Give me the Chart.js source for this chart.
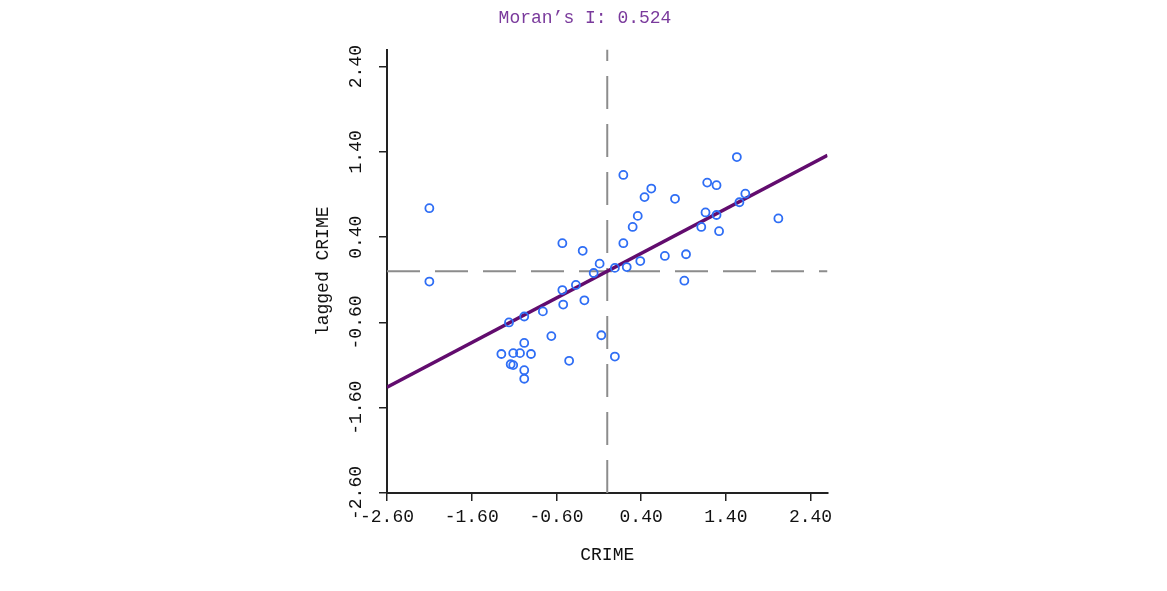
<!DOCTYPE html>
<html>
<head>
<meta charset="utf-8">
<script src="https://cdn.jsdelivr.net/npm/chart.js@4"></script>
<style>
    html, body { margin: 0; padding: 0; background: #fff; }
    canvas { display: block; }
</style>
</head>
<body>
<canvas id="moranChart" width="1167" height="591"></canvas>
<script>
let crime = [
    -2.10, -2.10, -0.53, -0.29, -0.09, -0.16, 0.09, 0.23, 0.39, -0.53,
    -0.37, -0.27, -0.52, -0.76, -0.98, -1.16, -0.66, -0.98, -1.25, -1.11,
    -1.03, -0.90, -1.14, -1.11, -0.45, -0.98, -0.98, -0.07, 0.09, 0.19,
    0.52, 0.44, 0.80, 0.36, 0.30, 0.19, 0.68, 0.93, 1.53, 1.18,
    1.29, 1.63, 1.56, 1.16, 1.29, 1.11, 1.32, 2.02, 0.91
];
let laggedCrime = [
    0.74, -0.12, 0.33, 0.24, 0.09, -0.02, 0.04, 0.05, 0.12, -0.22,
    -0.16, -0.34, -0.39, -0.47, -0.53, -0.60, -0.76, -0.84, -0.97, -0.96,
    -0.96, -0.97, -1.09, -1.10, -1.05, -1.16, -1.26, -0.75, -1.00, 1.13,
    0.97, 0.87, 0.85, 0.65, 0.52, 0.33, 0.18, 0.20, 1.34, 1.04,
    1.01, 0.91, 0.81, 0.69, 0.66, 0.52, 0.47, 0.62, -0.11
];
let fitX = [-2.6, 2.6];
let fitY = [-1.36, 1.36];
let axisTicks = [-2.6, -1.6, -0.6, 0.4, 1.4, 2.4];
let axisMin = -2.6;
let axisMax = 2.6;
let moranI = 0.524;

let monoFont = { family: '"Liberation Mono", "DejaVu Sans Mono", monospace', size: 18 };
let textColor = '#111';

let points = crime.map((c, i) => ({ x: c, y: laggedCrime[i] }));
let fitLine = fitX.map((x, i) => ({ x: x, y: fitY[i] }));

// y tick labels are rotated in the original, chart.js can't rotate them on a vertical axis
let yTickLabels = {
    id: 'yTickLabels',
    afterDraw(chart) {
        let ctx = chart.ctx;
        let yScale = chart.scales.y;
        let labelX = chart.chartArea.left - 31;
        ctx.save();
        ctx.font = monoFont.size + 'px ' + monoFont.family;
        ctx.fillStyle = textColor;
        ctx.textAlign = 'center';
        ctx.textBaseline = 'middle';
        axisTicks.forEach(v => {
            ctx.save();
            ctx.translate(labelX, yScale.getPixelForValue(v));
            ctx.rotate(-Math.PI / 2);
            ctx.fillText(v.toFixed(2), 0, 0);
            ctx.restore();
        });
        ctx.restore();
    }
};

let axisStyle = {
    grid: { drawOnChartArea: false, drawTicks: true, tickLength: 8, color: '#222', lineWidth: 1.5 },
    border: { display: true, color: '#222', width: 2 }
};

let ctx = document.getElementById('moranChart').getContext('2d');
let moranChart = new Chart(ctx, {
    type: 'scatter',
    data: {
        datasets: [
            {
                label: 'CRIME',
                data: points,
                pointRadius: 4,
                pointBorderWidth: 1.8,
                borderColor: '#2f6ef5',
                backgroundColor: 'rgba(0,0,0,0)',
                order: 0
            },
            {
                label: 'fit',
                data: fitLine,
                showLine: true,
                pointRadius: 0,
                borderColor: '#620c6e',
                borderWidth: 3.5,
                order: 1
            },
            {
                label: 'mean x',
                data: [{ x: axisMin, y: 0 }, { x: axisMax, y: 0 }],
                showLine: true,
                pointRadius: 0,
                borderColor: '#8c8c8c',
                borderWidth: 2,
                borderDash: [33, 15],
                order: 2
            },
            {
                label: 'mean y',
                data: [{ x: 0, y: axisMin }, { x: 0, y: axisMax }],
                showLine: true,
                pointRadius: 0,
                borderColor: '#8c8c8c',
                borderWidth: 2,
                borderDash: [33, 15],
                order: 2
            }
        ]
    },
    options: {
        responsive: false,
        animation: false,
        layout: {
            padding: { left: 342.5, right: 339.5, top: 0, bottom: 20 }
        },
        scales: {
            x: {
                type: 'linear',
                min: axisMin,
                max: axisMax,
                afterBuildTicks: scale => { scale.ticks = axisTicks.map(v => ({ value: v })); },
                afterFit: scale => { scale.height = 78; },
                ticks: {
                    autoSkip: false,
                    maxRotation: 0,
                    padding: 5,
                    color: textColor,
                    font: monoFont,
                    callback: value => value.toFixed(2)
                },
                grid: axisStyle.grid,
                border: axisStyle.border,
                title: {
                    display: true,
                    text: 'CRIME',
                    color: textColor,
                    font: monoFont,
                    padding: { top: 0, bottom: 5 }
                }
            },
            y: {
                type: 'linear',
                min: axisMin,
                max: axisMax,
                afterBuildTicks: scale => { scale.ticks = axisTicks.map(v => ({ value: v })); },
                afterFit: scale => { scale.width = 44.5; },
                ticks: { display: false },
                grid: axisStyle.grid,
                border: axisStyle.border,
                title: {
                    display: true,
                    text: 'lagged CRIME',
                    color: textColor,
                    font: monoFont,
                    padding: { top: -30.3, bottom: 0 }
                }
            }
        },
        plugins: {
            legend: { display: false },
            tooltip: { enabled: false },
            title: {
                display: true,
                text: 'Moran’s I: ' + moranI.toFixed(3),
                color: '#7a3a9c',
                font: { family: monoFont.family, size: 18, weight: 'normal' },
                padding: { top: 7, bottom: 21 }
            }
        }
    },
    plugins: [yTickLabels]
});
</script>
</body>
</html>
